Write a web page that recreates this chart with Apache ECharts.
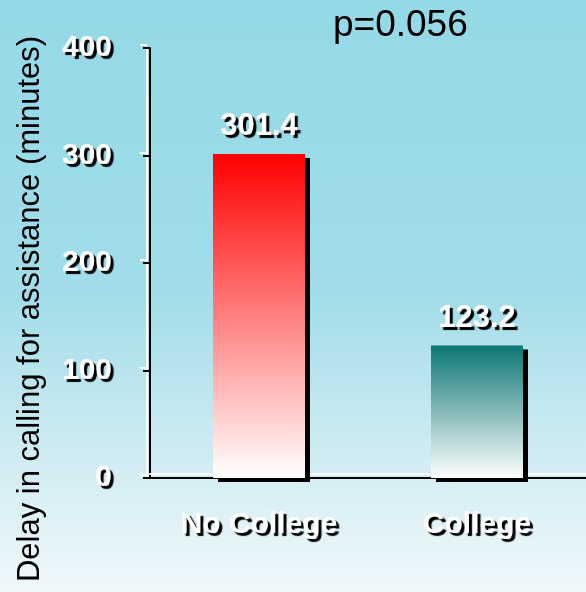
<!DOCTYPE html>
<html>
<head>
<meta charset="utf-8">
<script src="https://cdn.jsdelivr.net/npm/echarts@6/dist/echarts.min.js"></script>
<style>
  html, body { margin: 0; padding: 0; }
  #chart { width: 586px; height: 592px; }
</style>
</head>
<body>
<div id="chart"></div>
<script>
var categories = ['No College', 'College'];
var delays = [301.4, 123.2];
var barTops = ['#ff0000', '#0b7673'];
var yTicks = [0, 100, 200, 300, 400];

var myChart = echarts.init(document.getElementById('chart'));

var shadowText = {
    color: '#fff',
    fontWeight: 'bold',
    fontFamily: 'Liberation Sans, Arial, sans-serif',
    textShadowColor: '#000',
    textShadowBlur: 1,
    textShadowOffsetX: 3,
    textShadowOffsetY: 3
};

var option = {
    backgroundColor: new echarts.graphic.LinearGradient(0, 0, 0, 1, [
        { offset: 0, color: '#94d9e7' },
        { offset: 0.5, color: '#a2dde9' },
        { offset: 0.75, color: '#cdebf2' },
        { offset: 1, color: '#f0f8fb' }
    ]),
    title: {
        text: 'p=0.056',
        left: 328,
        top: 2,
        textStyle: {
            fontSize: 37,
            fontWeight: 'normal',
            color: '#000',
            fontFamily: 'Liberation Sans, Arial, sans-serif'
        }
    },
    graphic: [{
        type: 'text',
        x: 30,
        y: 309,
        rotation: Math.PI / 2,
        style: {
            text: 'Delay in calling for assistance (minutes)',
            fontSize: 31,
            fontFamily: 'Liberation Sans, Arial, sans-serif',
            fill: '#000',
            align: 'center',
            verticalAlign: 'middle'
        }
    }],
    grid: {
        left: 150,
        top: 48,
        bottom: 114,
        width: 450
    },
    xAxis: {
        type: 'category',
        data: categories,
        axisLine: {
            lineStyle: { color: '#000', width: 2, shadowColor: '#fff', shadowOffsetY: -4 }
        },
        axisTick: { length: 10, lineStyle: { color: '#000', width: 2 } },
        axisLabel: Object.assign({ fontSize: 30, margin: 32 }, shadowText)
    },
    yAxis: {
        type: 'value',
        min: yTicks[0],
        max: yTicks[yTicks.length - 1],
        interval: yTicks[1] - yTicks[0],
        splitLine: { show: false },
        axisLine: {
            show: true,
            lineStyle: { color: '#000', width: 2, shadowColor: '#fff', shadowOffsetX: -3 }
        },
        axisTick: {
            show: true,
            length: 7,
            lineStyle: { color: '#000', width: 2, shadowColor: '#fff', shadowOffsetX: -3, shadowOffsetY: -3 }
        },
        axisLabel: Object.assign({ fontSize: 30, margin: 38 }, shadowText)
    },
    series: [{
        type: 'bar',
        barWidth: 92,
        data: delays.map(function (v, i) {
            return {
                value: v,
                itemStyle: {
                    color: new echarts.graphic.LinearGradient(0, 0, 0, 1, [
                        { offset: 0, color: barTops[i] },
                        { offset: 1, color: '#ffffff' }
                    ])
                }
            };
        }),
        itemStyle: {
            shadowColor: '#000',
            shadowBlur: 0,
            shadowOffsetX: 5,
            shadowOffsetY: 4
        },
        label: Object.assign({
            show: true,
            position: 'top',
            distance: 12,
            fontSize: 31
        }, shadowText)
    }]
};

myChart.setOption(option);
</script>
</body>
</html>
